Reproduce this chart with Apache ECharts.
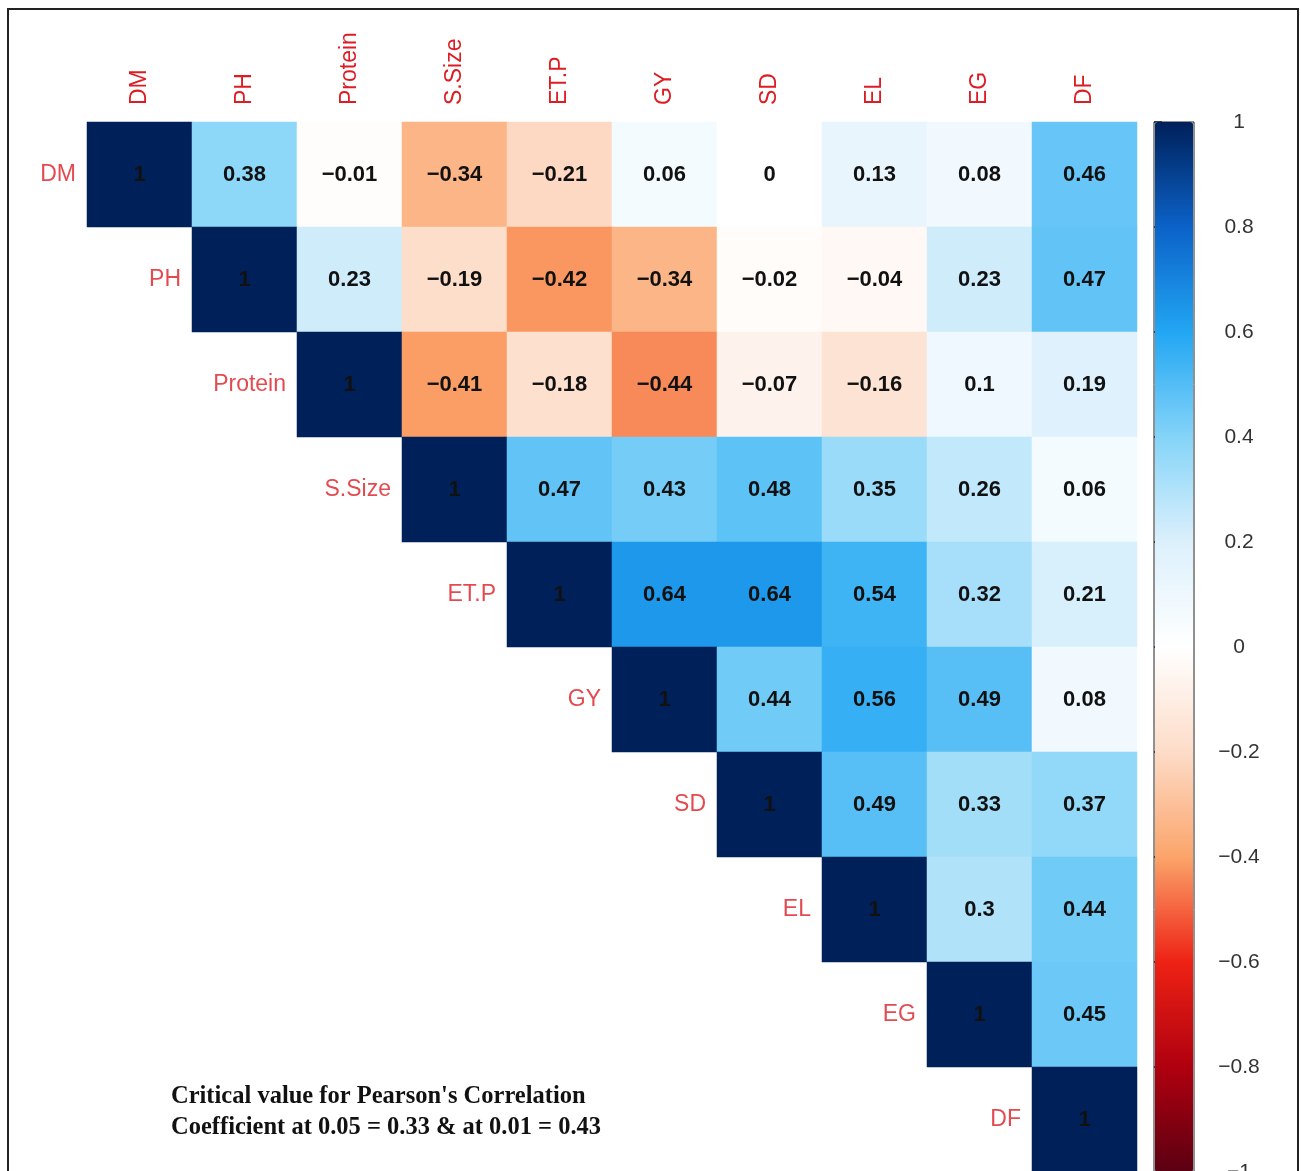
<!DOCTYPE html>
<html>
<head>
<meta charset="utf-8">
<title>Correlation heatmap</title>
<script src="https://cdn.jsdelivr.net/npm/echarts@6/dist/echarts.min.js"></script>
<style>
  html, body { margin: 0; padding: 0; background: #fff; }
  #chart { width: 1301px; height: 1171px; }
</style>
</head>
<body>
<div id="chart"></div>
<script>
// variable names (same order on both axes)
var variables = ['DM', 'PH', 'Protein', 'S.Size', 'ET.P', 'GY', 'SD', 'EL', 'EG', 'DF']

// upper triangle, each row starts at the diagonal
var rowDM = [1, 0.38, -0.01, -0.34, -0.21, 0.06, 0, 0.13, 0.08, 0.46]
var rowPH = [1, 0.23, -0.19, -0.42, -0.34, -0.02, -0.04, 0.23, 0.47]
var rowProtein = [1, -0.41, -0.18, -0.44, -0.07, -0.16, 0.1, 0.19]
var rowSSize = [1, 0.47, 0.43, 0.48, 0.35, 0.26, 0.06]
var rowETP = [1, 0.64, 0.64, 0.54, 0.32, 0.21]
var rowGY = [1, 0.44, 0.56, 0.49, 0.08]
var rowSD = [1, 0.49, 0.33, 0.37]
var rowEL = [1, 0.3, 0.44]
var rowEG = [1, 0.45]
var rowDF = [1]

var noteLines = [
  "Critical value for Pearson's Correlation",
  'Coefficient at 0.05 = 0.33 & at 0.01 = 0.43'
]

var rows = [rowDM, rowPH, rowProtein, rowSSize, rowETP, rowGY, rowSD, rowEL, rowEG, rowDF]

function fmt(v) {
  return String(v).replace('-', '\u2212')
}

var cells = []
rows.forEach(function(r, i) {
  r.forEach(function(v, k) {
    cells.push([i + k, i, v])
  })
})
var diag = variables.map(function(name, i) {
  return { value: [i, i], name: name }
})

var chart = echarts.init(document.getElementById('chart'))
chart.setOption({
  backgroundColor: '#fff',
  animation: false,
  textStyle: { fontFamily: 'Liberation Sans, Arial, sans-serif' },
  grid: [
    { left: 87, top: 122, width: 1050, height: 1050, outerBoundsMode: 'none' },
    { left: 1154, top: 122, width: 40, height: 1050, outerBoundsMode: 'none', show: true, borderColor: '#222', borderWidth: 1, backgroundColor: 'transparent' }
  ],
  xAxis: [
    {
      type: 'category',
      data: variables,
      position: 'top',
      gridIndex: 0,
      axisLine: { show: false },
      axisTick: { show: false },
      splitLine: { show: false },
      axisLabel: {
        rotate: -90,
        margin: 17,
        color: '#dd1c24',
        fontSize: 23,
        interval: 0
      }
    },
    { type: 'value', gridIndex: 1, show: false, min: 0, max: 1 }
  ],
  yAxis: [
    {
      type: 'category',
      data: variables,
      inverse: true,
      gridIndex: 0,
      axisLine: { show: false },
      axisTick: { show: false },
      axisLabel: { show: false },
      splitLine: { show: false }
    },
    {
      type: 'value',
      gridIndex: 1,
      position: 'right',
      min: -1,
      max: 1,
      interval: 0.2,
      axisLine: { show: false },
      splitLine: { show: false },
      axisTick: { show: true, inside: false, length: 8, lineStyle: { color: '#222', width: 1.5 } },
      axisLabel: {
        margin: 45,
        align: 'center',
        color: '#333',
        fontSize: 21,
        formatter: function(v) { return fmt(Math.round(v * 10) / 10) }
      }
    }
  ],
  visualMap: {
    type: 'continuous',
    seriesIndex: 0,
    min: -1,
    max: 1,
    calculable: false,
    left: 1155,
    top: 122,
    padding: 0,
    itemWidth: 38,
    itemHeight: 1050,
    text: null,
    hoverLink: false,
    inRange: {
      color: ['#5a0012', '#b0000f', '#ee2214', '#fba46a', '#fddcc8', '#ffffff',
        '#dcf0fc', '#84d4f8', '#22a6f3', '#0b62c8', '#00205a']
    }
  },
  series: [
    {
      type: 'heatmap',
      xAxisIndex: 0,
      yAxisIndex: 0,
      data: cells,
      label: {
        show: true,
        color: '#111',
        fontWeight: 'bold',
        fontSize: 22,
        formatter: function(p) { return fmt(p.value[2]) }
      },
      emphasis: { disabled: true }
    },
    {
      type: 'scatter',
      xAxisIndex: 0,
      yAxisIndex: 0,
      data: diag,
      symbolSize: 1,
      itemStyle: { color: 'rgba(0,0,0,0)' },
      silent: true,
      z: 5,
      label: {
        show: true,
        position: 'left',
        distance: 63,
        color: '#dd1c24',
        fontSize: 23,
        formatter: function(p) { return p.name }
      }
    }
  ],
  graphic: [
    {
      type: 'rect',
      shape: { x: 8, y: 9, width: 1290, height: 1220 },
      style: { fill: 'none', stroke: '#222', lineWidth: 2 },
      silent: true
    },
    {
      type: 'text',
      left: 171,
      top: 1081,
      style: {
        text: noteLines.join('\n'),
        font: 'bold 24.5px "Liberation Serif", "Times New Roman", serif',
        lineHeight: 31,
        fill: '#111'
      }
    }
  ]
})
</script>
</body>
</html>
